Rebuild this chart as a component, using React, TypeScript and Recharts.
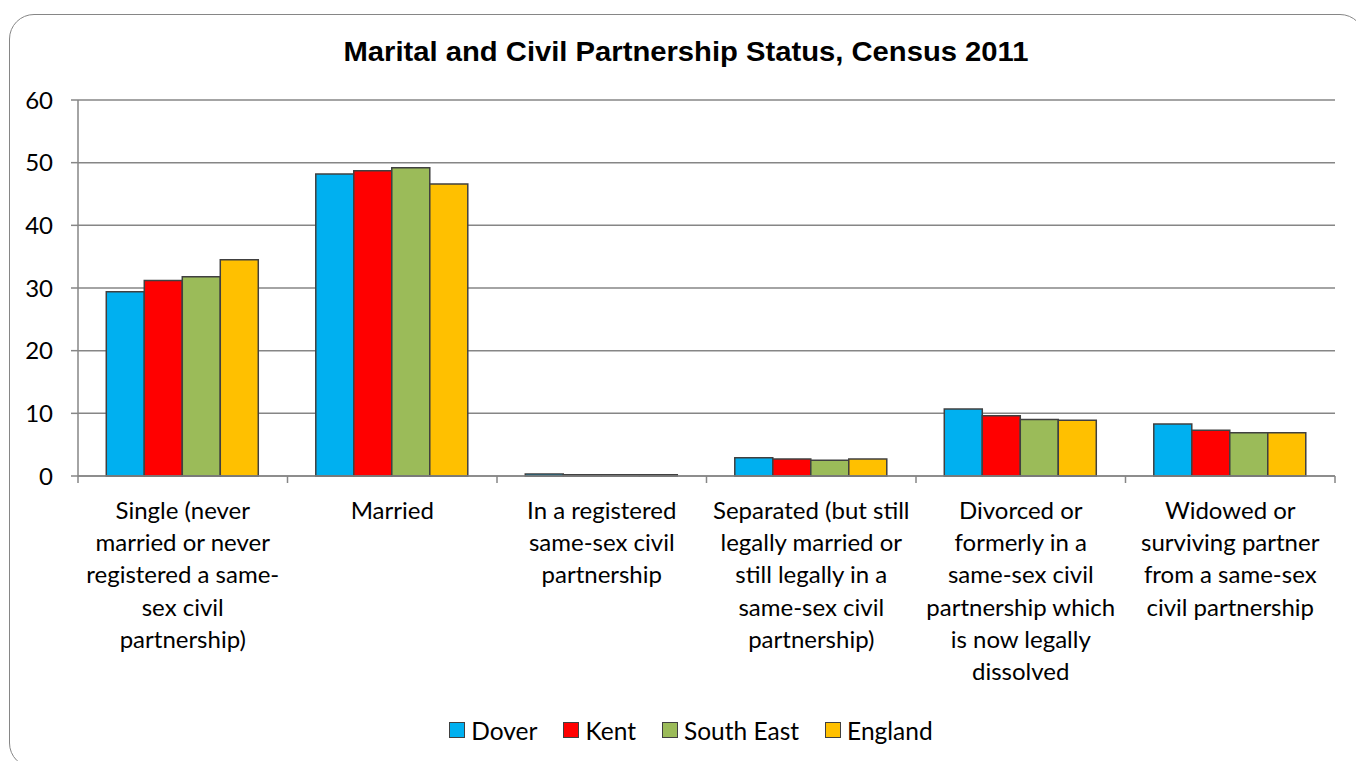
import { BarChart, Bar, XAxis, YAxis, CartesianGrid, Legend } from 'recharts';

const categories = [
  'Single (never married or never registered a same-sex civil partnership)',
  'Married',
  'In a registered same-sex civil partnership',
  'Separated (but still legally married or still legally in a same-sex civil partnership)',
  'Divorced or formerly in a same-sex civil partnership which is now legally dissolved',
  'Widowed or surviving partner from a same-sex civil partnership',
];

// wrapped the way the picture wraps them
const categoryLines = [
  ['Single (never', 'married or never', 'registered a same-', 'sex civil', 'partnership)'],
  ['Married'],
  ['In a registered', 'same-sex civil', 'partnership'],
  ['Separated (but still', 'legally married or', 'still legally in a', 'same-sex civil', 'partnership)'],
  ['Divorced or', 'formerly in a', 'same-sex civil', 'partnership which', 'is now legally', 'dissolved'],
  ['Widowed or', 'surviving partner', 'from a same-sex', 'civil partnership'],
];

const dover = [29.4, 48.2, 0.3, 2.9, 10.7, 8.3];
const kent = [31.2, 48.7, 0.2, 2.7, 9.6, 7.3];
const southEast = [31.8, 49.2, 0.2, 2.5, 9.0, 6.9];
const england = [34.5, 46.6, 0.2, 2.7, 8.9, 6.9];

const yTicks = [0, 10, 20, 30, 40, 50, 60];

const series = [
  { key: 'dover', name: 'Dover', color: '#00B0F0' },
  { key: 'kent', name: 'Kent', color: '#FF0000' },
  { key: 'southEast', name: 'South East', color: '#9BBB59' },
  { key: 'england', name: 'England', color: '#FFC000' },
];

const data = categories.map((name, i) => ({
  name,
  dover: dover[i],
  kent: kent[i],
  southEast: southEast[i],
  england: england[i],
}));

const W = 1356;
const H = 761;
const LEFT = 78;
const RIGHT = 21;
const BAND = (W - LEFT - RIGHT) / categories.length;
const FONT = 'Lato, "Open Sans", sans-serif';
const AXIS = '#868686';

const CategoryTick = (props: any) => {
  const { x, y, index } = props;
  const lines = categoryLines[index] || [];
  const last = index === categories.length - 1;
  return (
    <g>
      <line x1={x - BAND / 2} y1={y - 7} x2={x - BAND / 2} y2={y} stroke={AXIS} strokeWidth={1.5} />
      {last && <line x1={x + BAND / 2} y1={y - 7} x2={x + BAND / 2} y2={y} stroke={AXIS} strokeWidth={1.5} />}
      <text x={x} y={y + 36} textAnchor="middle" fontSize={24} fontFamily={FONT} fill="#000">
        {lines.map((l, i) => (
          <tspan key={i} x={x} dy={i === 0 ? 0 : 32.2}>{l}</tspan>
        ))}
      </text>
    </g>
  );
};

const LegendContent = () => (
  <div style={{ display: 'flex', justifyContent: 'center', alignItems: 'center', height: 30, fontFamily: FONT, fontSize: 24.5 }}>
    {series.map((s) => (
      <div key={s.key} style={{ display: 'flex', alignItems: 'center', margin: '0 13px' }}>
        <span style={{ width: 16, height: 16, background: s.color, border: '1.5px solid #404040', boxSizing: 'border-box', marginRight: 6 }} />
        <span>{s.name}</span>
      </div>
    ))}
  </div>
);

export default function App() {
  return (
    <div style={{ position: 'absolute', left: 0, top: 0, width: W, height: H, overflow: 'hidden', background: '#fff' }}>
      <div
        style={{
          position: 'absolute', left: 9, top: 14, width: 1356, height: 754,
          border: '1.5px solid #868686', borderRadius: 25, boxSizing: 'border-box',
        }}
      />
      <svg style={{ position: 'absolute', left: 0, top: 0 }} width={W} height={80}>
        <text x={686} y={61} textAnchor="middle" fontFamily='"Liberation Sans", Arial, sans-serif' fontWeight="bold" fontSize={28} textLength={685} lengthAdjust="spacingAndGlyphs">
          Marital and Civil Partnership Status, Census 2011
        </text>
      </svg>
      <div style={{ position: 'absolute', left: 0, top: 0 }}>
        <BarChart
          width={W}
          height={H}
          data={data}
          margin={{ top: 100, right: RIGHT, left: 0, bottom: 55 }}
          barCategoryGap="13.5%"
          barGap={0}
        >
          <CartesianGrid vertical={false} stroke={AXIS} strokeWidth={1.5} />
          <XAxis
            dataKey="name"
            height={200}
            interval={0}
            axisLine={{ stroke: AXIS, strokeWidth: 1.5 }}
            tickLine={false}
            tickSize={7}
            tickMargin={0}
            tick={<CategoryTick />}
          />
          <YAxis
            width={LEFT}
            domain={[0, 60]}
            ticks={yTicks}
            interval={0}
            axisLine={{ stroke: AXIS, strokeWidth: 1.5 }}
            tickLine={{ stroke: AXIS, strokeWidth: 1.5 }}
            tickSize={7}
            tickMargin={18}
            tick={{ fill: '#000', fontSize: 24, fontFamily: FONT }}
          />
          <Legend
            verticalAlign="bottom"
            content={<LegendContent />}
            wrapperStyle={{ top: 715, bottom: 'auto', left: 26, width: W - 26, height: 30 }}
          />
          {series.map((s) => (
            <Bar
              key={s.key}
              dataKey={s.key}
              name={s.name}
              fill={s.color}
              stroke="#404040"
              strokeWidth={1.5}
              isAnimationActive={false}
            />
          ))}
        </BarChart>
      </div>
    </div>
  );
}
